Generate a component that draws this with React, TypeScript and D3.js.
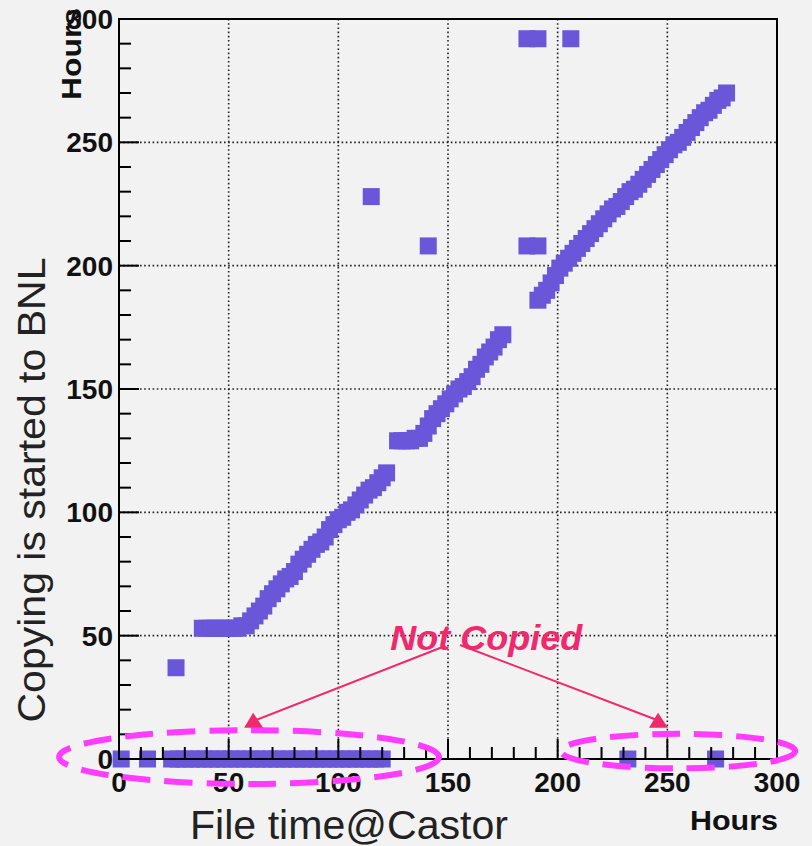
import React from 'react';
import * as d3 from 'd3';

// ---- data (hours) ----
const xTickValues = [0, 50, 100, 150, 200, 250, 300];
const yTickValues = [0, 50, 100, 150, 200, 250, 300];

const notCopiedX = [1, 13, 24, 27, 30, 33, 36, 39, 42, 45, 48, 51, 54, 57, 60, 63, 66, 69, 72, 75, 78, 81, 84, 87, 90, 93, 96, 99, 102, 105, 108, 111, 114, 117, 120, 232, 272];

const lowerX = [38, 40, 42, 44, 46, 48, 50, 52, 54, 56, 58, 60, 62, 64, 66, 68, 70, 72, 74, 76, 78, 80, 82, 84, 86, 88, 90, 92, 94, 96, 98, 100, 102, 104, 106, 108, 110, 112, 114, 116, 118, 120, 122];
const lowerY = [53, 53, 53, 53, 53, 53, 53, 53, 53, 54, 54, 56, 58, 60, 62, 65, 67, 69, 71, 73, 74, 76, 79, 81, 83, 85, 87, 88, 90, 93, 95, 97, 98, 100, 101, 103, 105, 107, 109, 110, 112, 114, 116];

const midX = [127, 129, 131, 133, 135, 137, 139, 141, 143, 145, 147, 149, 151, 153, 155, 157, 159, 161, 163, 165, 167, 169, 171, 173, 175];
const midY = [129, 129, 129, 129, 130, 130, 132, 135, 138, 140, 142, 144, 146, 148, 150, 151, 153, 155, 158, 160, 163, 165, 167, 170, 172];

const upX = [191, 193, 195, 197, 199, 201, 203, 205, 207, 209, 211, 213, 215, 217, 219, 221, 223, 225, 227, 229, 231, 233, 235, 237, 239, 241, 243, 245, 247, 249, 251, 253, 255, 257, 259, 261, 263, 265, 267, 269, 271, 273, 275, 277];
const upY = [186, 188, 190, 193, 196, 199, 201, 203, 205, 207, 209, 211, 213, 215, 217, 219, 221, 223, 224, 226, 228, 230, 231, 233, 235, 237, 239, 241, 243, 245, 247, 249, 250, 252, 254, 256, 258, 260, 262, 263, 265, 267, 268, 270];

const outlierX = [26, 115, 141, 186, 191, 186, 191, 206];
const outlierY = [37, 228, 208, 208, 208, 292, 292, 292];

// annotation anchors in data coordinates
const annotationText = 'Not Copied';
const annotationPos = [167.4, 44.2];
const arrowStarts = [[148.7, 45.8], [155.5, 46.2]];
const arrowEnds = [[61.6, 15.5], [246.2, 15.5]];
const ellipseCenters = [[59.3, 0.8], [254.9, 3.2]];
const ellipseRadii = [[86.6, 10.9], [53.4, 7.0]];

const FONT = '"Liberation Sans", Arial, Helvetica, sans-serif';
const MARK = '#6a56d8';
const PINK = '#f0286e';
const MAGENTA = '#ff3cff';

export default function App() {
  const W = 812, H = 846;
  const x = d3.scaleLinear().domain([0, 300]).range([119, 777]);
  const y = d3.scaleLinear().domain([0, 300]).range([759, 19]);
  const [x0, x1] = x.range();
  const [y0, y1] = y.range();

  const pts: [number, number][] = [];
  notCopiedX.forEach((v) => pts.push([v, 0]));
  lowerX.forEach((v, i) => pts.push([v, lowerY[i]]));
  midX.forEach((v, i) => pts.push([v, midY[i]]));
  upX.forEach((v, i) => pts.push([v, upY[i]]));
  outlierX.forEach((v, i) => pts.push([v, outlierY[i]]));

  const minor = d3.range(0, 301, 10);
  const gridVals = xTickValues.filter((v) => v > 0 && v < 300);
  const ms = 17;

  return (
    <svg width={W} height={H} style={{ position: 'absolute', left: 0, top: 0, background: '#f2f2f2' }}>
      <rect x={0} y={0} width={W} height={H} fill="#f2f2f2" />
      {/* grid */}
      <g stroke="#222" strokeWidth={1.6} strokeDasharray="1.6 2.6">
        {gridVals.map((v) => (
          <line key={'gx' + v} x1={x(v)} x2={x(v)} y1={y1} y2={y0} />
        ))}
        {gridVals.map((v) => (
          <line key={'gy' + v} x1={x0} x2={x1} y1={y(v)} y2={y(v)} />
        ))}
      </g>
      {/* points */}
      <g fill={MARK}>
        {pts.map(([a, b], i) => (
          <rect key={i} x={x(a) - ms / 2} y={y(b) - ms / 2} width={ms} height={ms} />
        ))}
      </g>
      {/* frame & ticks */}
      <g stroke="#000" strokeWidth={2} fill="none">
        <rect x={x0} y={y1} width={x1 - x0} height={y0 - y1} />
        {minor.map((v) => (
          <line key={'tx' + v} x1={x(v)} x2={x(v)} y1={y0} y2={y0 - (v % 50 === 0 ? 20 : 12)} />
        ))}
        {minor.map((v) => (
          <line key={'ty' + v} x1={x0} x2={x0 + (v % 50 === 0 ? 20 : 12)} y1={y(v)} y2={y(v)} />
        ))}
      </g>
      {/* tick labels */}
      <g fontFamily={FONT} fontWeight="bold" fontSize={28} fill="#111">
        {xTickValues.map((v) => (
          <text key={'lx' + v} x={x(v)} y={792} textAnchor="middle">{v}</text>
        ))}
        {yTickValues.map((v) => (
          <text key={'ly' + v} x={113} y={y(v) + 10} textAnchor="end">{v}</text>
        ))}
      </g>
      {/* axis titles */}
      <text x={190} y={839} fontFamily={FONT} fontSize={40} fill="#222" textLength={318} lengthAdjust="spacingAndGlyphs">File time@Castor</text>
      <text transform="translate(45,490) rotate(-90)" fontFamily={FONT} fontSize={38} fill="#222" textAnchor="middle" textLength={465} lengthAdjust="spacingAndGlyphs">Copying is started to BNL</text>
      <text x={690} y={830} fontFamily={FONT} fontWeight="bold" fontSize={27} fill="#111" textLength={88} lengthAdjust="spacingAndGlyphs">Hours</text>
      <text transform="translate(81,54) rotate(-90)" fontFamily={FONT} fontWeight="bold" fontSize={28} fill="#111" textAnchor="middle" textLength={92} lengthAdjust="spacingAndGlyphs">Hours</text>
      {/* annotations */}
      <g fill="none" stroke={MAGENTA} strokeWidth={6} strokeDasharray="28 14">
        {ellipseCenters.map(([cx, cy], i) => (
          <ellipse key={'e' + i} cx={x(cx)} cy={y(cy)}
            rx={x(ellipseRadii[i][0]) - x(0)} ry={y(0) - y(ellipseRadii[i][1])} />
        ))}
      </g>
      <g stroke={PINK} strokeWidth={2} fill={PINK}>
        {arrowStarts.map(([sx, sy], i) => {
          const ex = x(arrowEnds[i][0]);
          const ey = y(arrowEnds[i][1]);
          return (
            <g key={'a' + i}>
              <line x1={x(sx)} y1={y(sy)} x2={ex} y2={ey} />
              <path stroke="none" d={`M${ex - 1},${ey - 8} L${ex - 10},${ey + 7} L${ex + 9},${ey + 7} Z`} />
            </g>
          );
        })}
      </g>
      <text x={x(annotationPos[0])} y={y(annotationPos[1])} fontFamily={FONT} fontWeight="bold" fontStyle="italic" fontSize={35} fill={PINK} textAnchor="middle" textLength={192} lengthAdjust="spacingAndGlyphs">{annotationText}</text>
    </svg>
  );
}
